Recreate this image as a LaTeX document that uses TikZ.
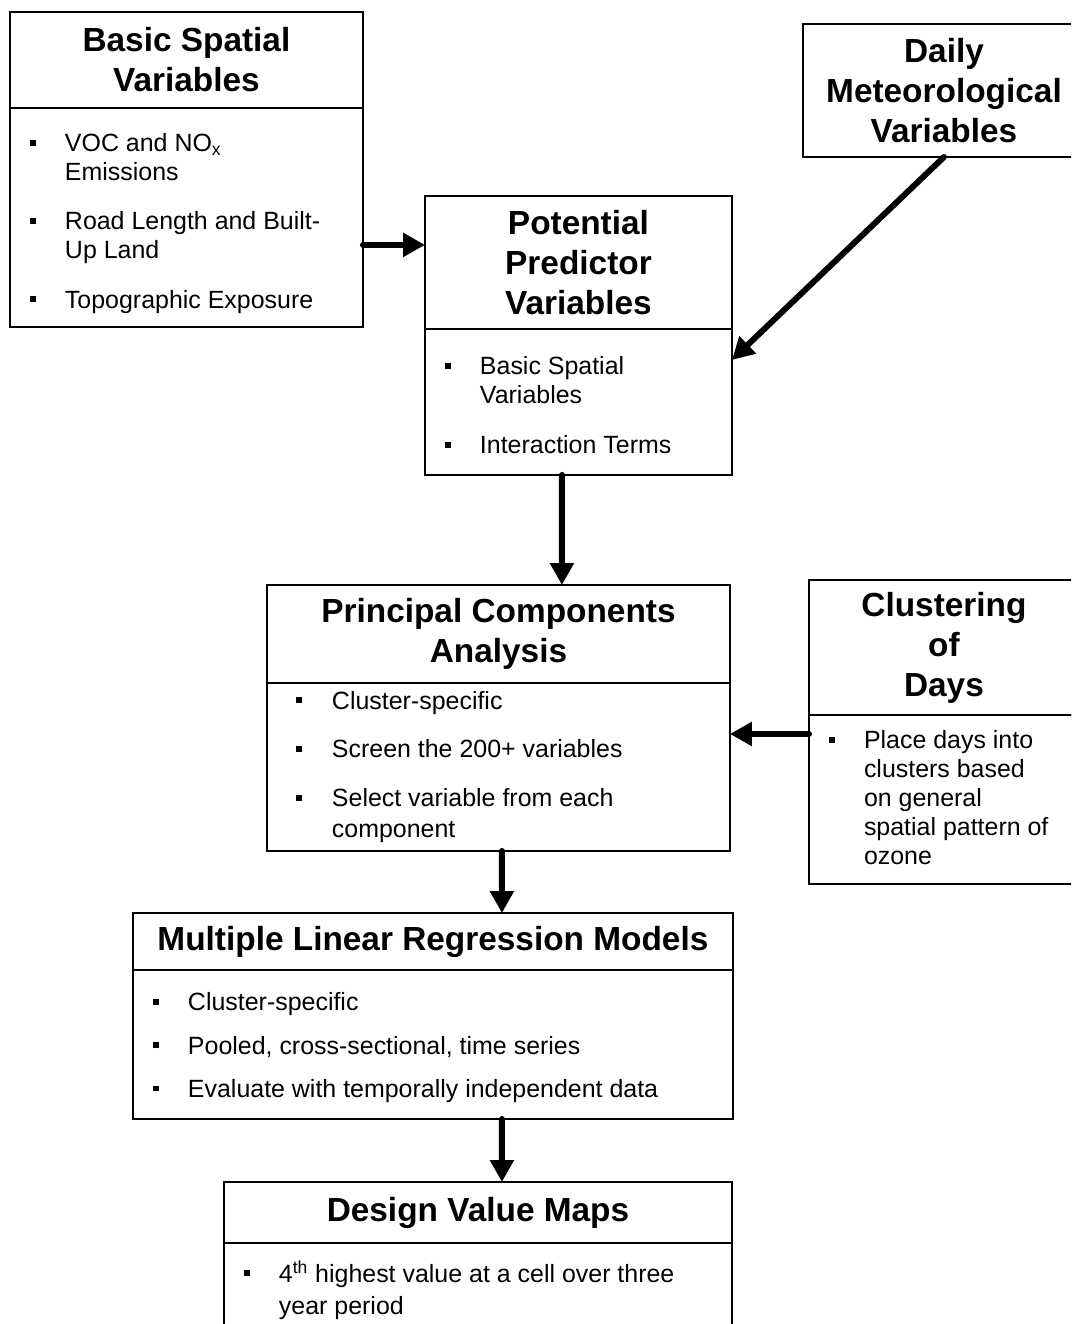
\documentclass[tikz,border=0pt]{standalone}
\usepackage{fontspec}
\setmainfont{Liberation Sans}
\usetikzlibrary{arrows.meta}
\newlength{\bulin}\newlength{\txtin}
\setlength{\bulin}{0.4cm}\setlength{\txtin}{1.1cm}
\newcommand{\bitem}[1]{\par\hangindent=\txtin\hangafter=1\noindent\makebox[\txtin][l]{\hspace*{\bulin}\rule[3.4pt]{3.4pt}{3.4pt}}\strut#1\par}
\newcommand{\bodybox}[5]{\parbox[c][#2][t]{#1}{\fontsize{14.2}{16.5}\selectfont\setlength{\parskip}{#4}\vspace*{#3}#5}}
\begin{document}
\begin{tikzpicture}[x=0.02cm,y=-0.02cm]
        \tikzset{
            head/.style={draw,line width=0.8pt,outer sep=0pt,anchor=north west,align=center,inner sep=0pt,font=\fontsize{19}{22.7}\selectfont\bfseries},
            body/.style={draw,line width=0.8pt,outer sep=0pt,anchor=north west,inner sep=0pt},
            flow/.style={line width=3.4pt,line cap=round,-{Triangle[length=0.44cm,width=0.46cm]}}
        }
        \useasboundingbox (0,0) rectangle (1071,1324);
        \clip (0,0) rectangle (1071,1324);

        \node[head,minimum width=7.06cm,minimum height=1.92cm] (bsv) at (10,12) {Basic Spatial\\Variables};
        \node[body] (bsvl) at (bsv.south west) {\bodybox{7.06cm}{4.38cm}{1.85pt}{11.5pt}{%
            \bitem{VOC and NO\textsubscript{x}\\Emissions}%
            \bitem{Road Length and Built-\\Up Land}%
            \bitem{Topographic Exposure}}};

        \node[head,minimum width=5.64cm,minimum height=2.66cm] (dmv) at (803,24) {Daily\\Meteorological\\Variables};

        \node[head,minimum width=6.14cm,minimum height=2.66cm] (ppv) at (425,196) {Potential\\Predictor\\Variables};
        \node[body] (ppvl) at (ppv.south west) {\bodybox{6.14cm}{2.92cm}{2.65pt}{11.9pt}{%
            \bitem{Basic Spatial\\Variables}%
            \bitem{Interaction Terms}}};

        \node[head,minimum width=9.26cm,minimum height=1.96cm] (pca) at (267,585) {Principal Components\\Analysis};
        \node[body] (pcal) at (pca.south west) {\bodybox{9.26cm}{3.36cm}{-7.85pt}{11.2pt}{%
            \setlength{\bulin}{0.58cm}\setlength{\txtin}{1.3cm}%
            \bitem{Cluster-specific}%
            \bitem{Screen the 200+ variables}%
            \bitem{Select variable from each\\[1pt]component}}};

        \node[head,minimum width=5.4cm,minimum height=2.7cm] (clus) at (809,580) {Clustering\\of\\Days};
        \node[body] (clusl) at (clus.south west) {\bodybox{5.4cm}{3.38cm}{7.75pt}{0pt}{%
            \bitem{Place days into\\clusters based\\on general\\spatial pattern of\\ozone}}};

        \node[head,minimum width=12cm,minimum height=1.14cm] (mlr) at (133,913) {Multiple Linear Regression Models};
        \node[body] (mlrl) at (mlr.south west) {\bodybox{12cm}{2.98cm}{3.4pt}{8.2pt}{%
            \bitem{Cluster-specific}%
            \bitem{Pooled, cross-sectional, time series}%
            \bitem{Evaluate with temporally independent data}}};

        \node[head,minimum width=10.16cm,minimum height=1.22cm] (dvm) at (224,1182) {Design Value Maps};
        \node[body] (dvml) at (dvm.south west) {\bodybox{10.16cm}{2.34cm}{10pt}{0pt}{%
            \bitem{4\textsuperscript{th} highest value at a cell over three\\[2pt]year period}}};

        \coordinate (a1) at ([yshift=-0.55cm]bsvl.east);
        \coordinate (a2) at ([yshift=1.31cm]clusl.west);
        \draw[flow] (a1) -- (a1 -| ppv.west);
        \draw[flow] (dmv.south) -- ([yshift=0.84cm]ppvl.east);
        \draw[flow] ([xshift=-0.33cm]ppvl.south) -- ([xshift=1.27cm]pca.north);
        \draw[flow] (a2) -- (a2 -| pcal.east);
        \draw[flow] ([xshift=0.07cm]pcal.south) -- ([xshift=1.38cm]mlr.north);
        \draw[flow] ([xshift=1.38cm]mlrl.south) -- ([xshift=0.48cm]dvm.north);
\end{tikzpicture}
\end{document}
